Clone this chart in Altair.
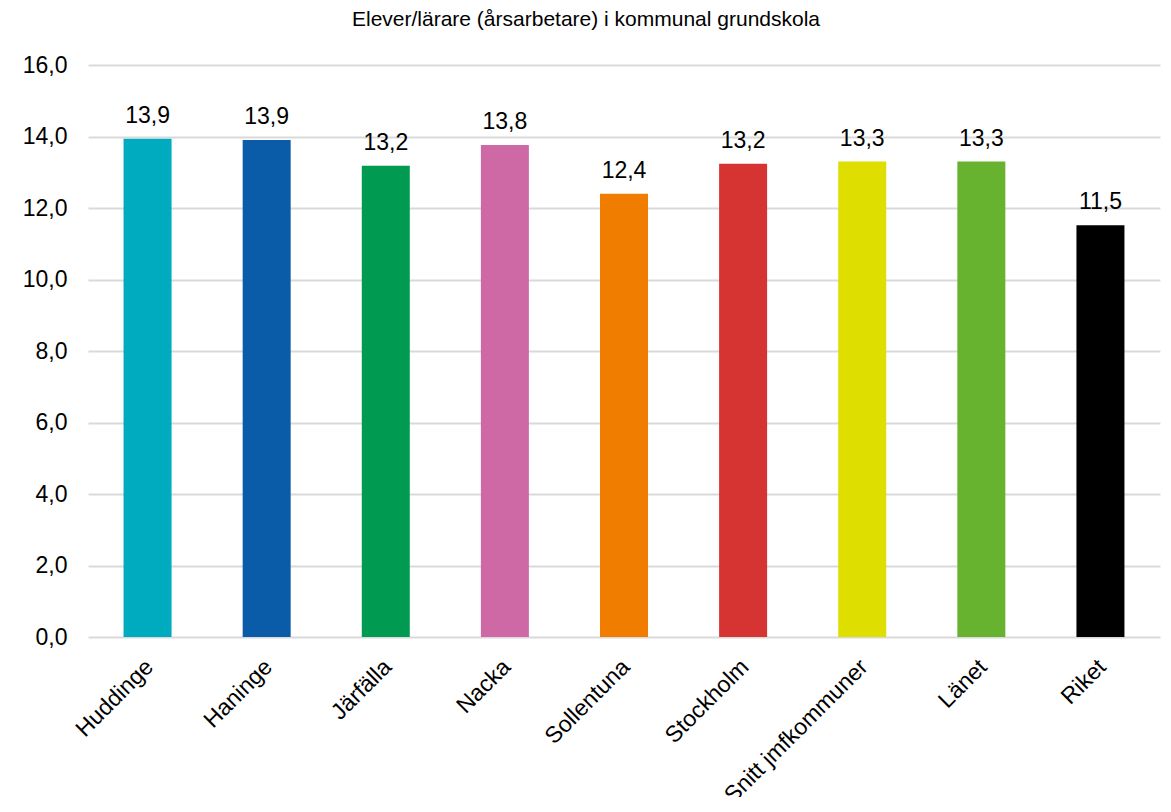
import altair as alt
import pandas as pd

categories = ["Huddinge", "Haninge", "Järfälla", "Nacka", "Sollentuna",
              "Stockholm", "Snitt jmfkommuner", "Länet", "Riket"]
values = [13.94, 13.9, 13.18, 13.76, 12.4, 13.24, 13.3, 13.3, 11.52]
colors = ["#00ABC0", "#0A5CA8", "#009B50", "#CE69A6", "#F07D00",
          "#D63333", "#DEDE00", "#67B32F", "#000000"]
y_ticks = [0, 2, 4, 6, 8, 10, 12, 14, 16]

df = pd.DataFrame({"kategori": categories, "varde": values})

FONT = "Liberation Sans"
FS = 23

x = alt.X("kategori:N", sort=categories, title=None,
          scale=alt.Scale(paddingInner=0.597, paddingOuter=0.2985),
          axis=alt.Axis(labelAngle=-45, labelAlign="right", labelBaseline="middle",
                        labelFontSize=FS, labelFont=FONT, labelColor="#000000",
                        labelPadding=26, labelOffset=2, labelLimit=0,
                        ticks=False, tickSize=0, domain=False, grid=False))

base = alt.Chart(df).encode(x=x)

bars = base.mark_bar().encode(
    y=alt.Y("varde:Q", title=None,
            scale=alt.Scale(domain=[0, 16], nice=False),
            axis=alt.Axis(values=y_ticks, labelExpr="replace(format(datum.value, '.1f'), '.', ',')",
                          labelFontSize=FS, labelFont=FONT, labelColor="#000000",
                          labelPadding=21, ticks=False, domain=False,
                          grid=True, gridColor="#D9D9D9", gridWidth=2)),
    color=alt.Color("kategori:N", sort=categories,
                    scale=alt.Scale(domain=categories, range=colors), legend=None),
)

labels = base.mark_text(baseline="alphabetic", dy=-16, fontSize=FS, font=FONT,
                        color="#000000").transform_calculate(
    etikett="replace(format(datum.varde, '.1f'), '.', ',')"
).encode(y=alt.Y("varde:Q"), text="etikett:N")

chart = (bars + labels).properties(
    width=1072, height=572,
    title=alt.TitleParams("Elever/lärare (årsarbetare) i kommunal grundskola",
                          font=FONT, fontSize=21, fontWeight="normal",
                          color="#000000", anchor="middle", offset=24, dx=-38),
    autosize=alt.AutoSizeParams(type="none"),
    padding={"left": 80, "top": 57, "right": 3, "bottom": 160},
).configure_view(stroke=None)

chart.save("out.html", embed_options={"renderer": "svg", "actions": False})
